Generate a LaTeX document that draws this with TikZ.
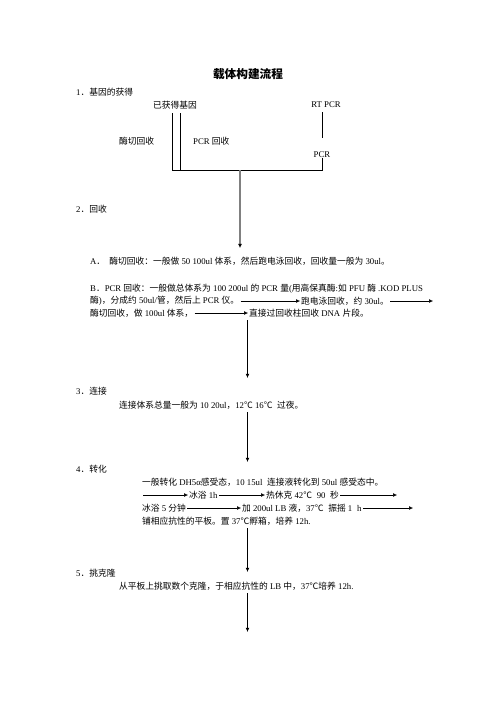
\documentclass[tikz,border=0pt]{standalone}
\usepackage{fontspec}
\setmainfont{Liberation Serif}
\newfontfamily\cjk{Noto Sans CJK SC}
\usetikzlibrary{arrows.meta}

% Chinese characters are set in the CJK font
\XeTeXinterchartokenstate=1
\newXeTeXintercharclass\zhclass
\newcount\zhcount
\def\zhrange#1#2{\zhcount=#1 \loop\XeTeXcharclass\zhcount=\zhclass \advance\zhcount by 1 \ifnum\zhcount<#2 \repeat}
\zhrange{"4E00}{"9FFF}
\zhrange{"3000}{"3040}
\zhrange{"FF00}{"FFF0}
\XeTeXcharclass"2103=\zhclass
\XeTeXinterchartoks 0 \zhclass={\begingroup\cjk}
\XeTeXinterchartoks 4095 \zhclass={\begingroup\cjk}
\XeTeXinterchartoks \zhclass 0={\endgroup}
\XeTeXinterchartoks \zhclass 4095={\endgroup}

\begin{document}
\begin{tikzpicture}[x=1.2pt, y=-1.2pt,
		txt/.style={anchor=west, inner sep=0pt, font=\fontsize{10.5}{12}\selectfont},
		ctr/.style={inner sep=0pt, font=\fontsize{10.5}{12}\selectfont},
		line/.style={line width=0.8pt},
		arr/.style={->, line width=0.8pt, shorten <=1.5pt, shorten >=1pt},
		grayarr/.style={-{Latex[length=5pt, width=5pt, black]}, line width=1.8pt, gray},
		>={Latex[length=5pt, width=4.5pt]}
	]
	\useasboundingbox (0,0) rectangle (496,702);

	\node[font=\fontsize{14}{16}\selectfont\bfseries] (title) at (248,74) {载体构建流程};

	\node[txt] (h1) at (76,92) {1．基因的获得};
	\node[txt] (h2) at (76,209) {2．回收};
	\node[txt] (h3) at (76,391) {3．连接};
	\node[txt] (h4) at (76,469) {4．转化};
	\node[txt] (h5) at (76,573) {5．挑克隆};

	\node[ctr] (gene) at (175,105) {已获得基因};
	\node[ctr] (rt) at (326,105) {RT PCR};
	\node[txt] (cut) at (119,141) {酶切回收};
	\node[txt] (pcrrec) at (193,141) {PCR 回收};
	\node[ctr] (pcr) at (322,155) {PCR};

	\node[txt] (a1) at (90,261) {A．\hspace{5pt}酶切回收：一般做 50 100ul 体系，然后跑电泳回收，回收量一般为 30ul。};
	\node[txt] (b1) at (90,289) {B．PCR 回收：一般做总体系为 100 200ul 的 PCR 量(用高保真酶:如 PFU 酶 .KOD PLUS};
	\node[txt] (b2) at (90,301) {酶)，分成约 50ul/管，然后上 PCR 仪。};
	\node[txt] (b3) at (301,301) {跑电泳回收，约 30ul。};
	\node[txt] (b5) at (90,313) {酶切回收，做 100ul 体系，};
	\node[txt] (b6) at (249,313) {直接过回收柱回收 DNA 片段。};

	\node[txt] (lig) at (119,405) {连接体系总量一般为 10 20ul，12℃ 16℃\hspace{3pt} 过夜。};

	\node[txt] (t1) at (142,482) {一般转化 DH5α感受态，10 15ul\hspace{3pt} 连接液转化到 50ul 感受态中。};
	\node[txt] (t2) at (189,495) {冰浴 1h};
	\node[txt] (t3) at (266,495) {热休克 42℃\hspace{3pt} 90\hspace{3pt} 秒};
	\node[txt] (t4) at (142,508) {冰浴 5 分钟};
	\node[txt] (t5) at (242,508) {加 200ul LB 液，37℃\hspace{3pt} 振摇 1\hspace{3pt} h};
	\node[txt] (t6) at (142,521) {铺相应抗性的平板。置 37℃孵箱，培养 12h.};

	\node[txt] (pick) at (119,586) {从平板上挑取数个克隆，于相应抗性的 LB 中，37℃培养 12h.};

	% free ends
	\coordinate (g1) at (172,113);
	\coordinate (g2) at (180,113);
	\coordinate (m1) at (172,170);
	\coordinate (m2) at (180,170);
	\coordinate (r1) at (322,112);
	\coordinate (r2) at (322,138);
	\coordinate (join) at (240,170);
	\coordinate (rec) at (240,248);
	\coordinate (b4) at (434,301);
	\coordinate (t0) at (142,495);
	\coordinate (t3e) at (398,495);
	\coordinate (t5e) at (414,508);
	\foreach \n/\y in {d1/320, d2/378, e1/412, e2/462, f1/528, f2/572, k1/593, k2/632}
		\coordinate (\n) at (247.5,\y);

	\draw[line] (g1) -- (m1) -| (pcr.south);
	\draw[line] (g2) -- (m2);
	\draw[line] (r1) -- (r2);
	\draw[grayarr] (join) -- (rec);

	\foreach \i/\j in {b2.east/b3.west, b3.east/b4, b5.east/b6.west, t0/t2.west, t2.east/t3.west, t3.east/t3e, t4.east/t5.west, t5.east/t5e}
		\draw[arr] (\i) -- (\j);

	\foreach \i/\j in {d1/d2, e1/e2, f1/f2, k1/k2}
		\draw[->, line width=0.8pt] (\i) -- (\j);

\end{tikzpicture}
\end{document}
